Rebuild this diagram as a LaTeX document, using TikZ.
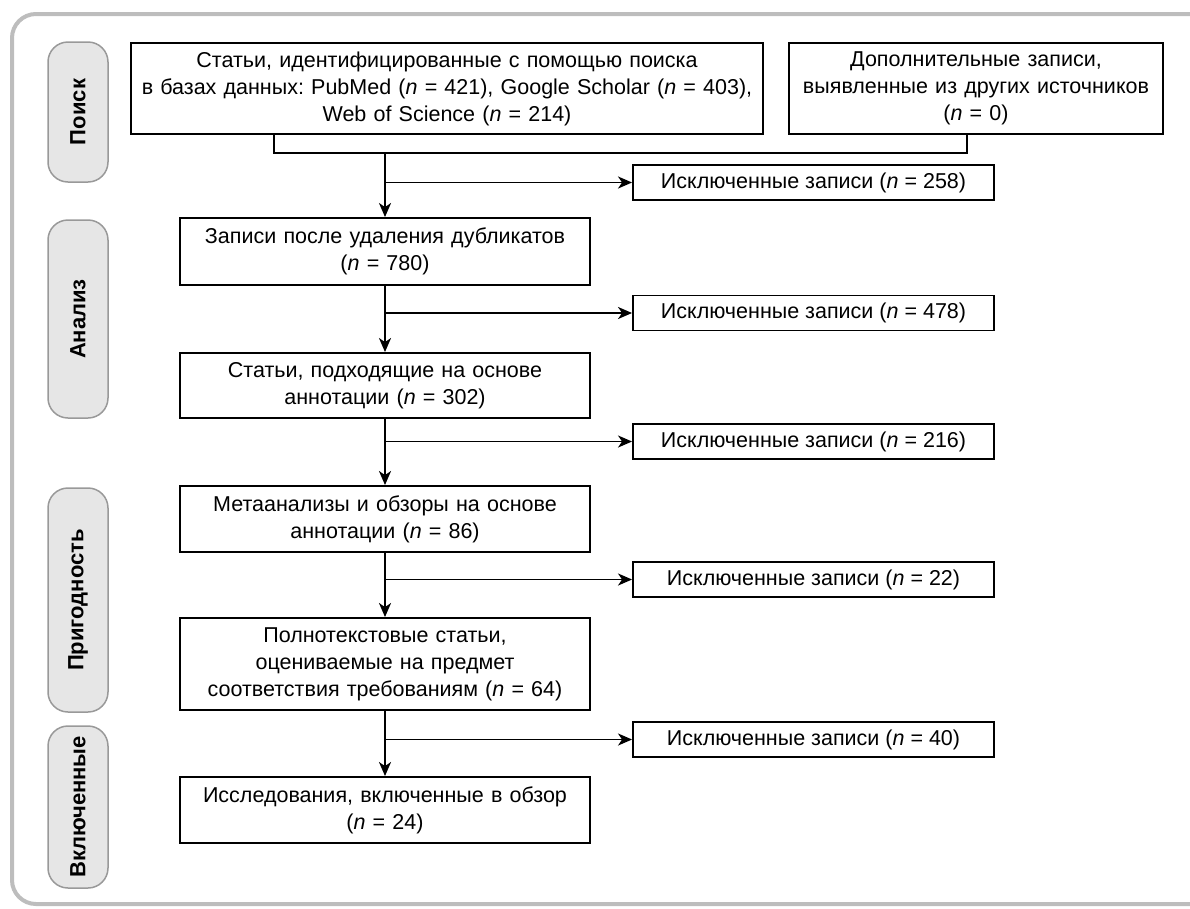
\documentclass[tikz,border=0pt]{standalone}
\usepackage{fontspec}
\setmainfont{Liberation Sans}
\usetikzlibrary{arrows.meta}
\definecolor{framegray}{HTML}{BDBDBD}
\definecolor{phasefill}{HTML}{E6E6E6}
\definecolor{phaseline}{HTML}{999999}
\frenchspacing
\begin{document}
\begin{tikzpicture}[x=1pt,y=-1pt,
    >={Stealth[length=14pt,width=12pt,inset=4pt]},
    every node/.style={font=\fontsize{21.5}{27}\selectfont},
    box/.style={draw,line width=1.9pt,align=center,inner sep=0pt,
      minimum width=410,text width=404},
    exbox/.style={draw,line width=1.9pt,align=center,inner sep=0pt,
      minimum width=361,minimum height=35},
    phase/.style={draw=phaseline,fill=phasefill,line width=1.5pt,
      rounded corners=20,rotate=90,minimum height=60,inner sep=0pt,
      font=\fontsize{22}{26}\selectfont\bfseries}]
  \useasboundingbox (0,0) rectangle (1190,908);
  \begin{scope}
    \clip (0,0) rectangle (1190,908);
    \draw[framegray,line width=4pt,rounded corners=24]
      (1240,904) -- (12,904) -- (12,14) -- (1240,14);
  \end{scope}
  \node[phase,minimum width=140] (p1) at (78,112) {Поиск};
  \node[phase,minimum width=198] (p2) at (78,319) {Анализ};
  \node[phase,minimum width=224] (p3) at (78,600) {Пригодность};
  \node[phase,minimum width=162] (p4) at (78,807) {Включенные};
  \node[box,minimum width=632,text width=626,minimum height=91] (srch) at (447,88.5)
    {Статьи, идентифицированные с помощью поиска\\
     в базах данных: PubMed (\textit{n} = 421), Google Scholar (\textit{n} = 403),\\
     Web of Science (\textit{n} = 214)};
  \node[box,minimum width=374,text width=368,minimum height=91] (extra) at (976,88.5)
    {Дополнительные записи,\\ выявленные из других источников\\ (\textit{n} = 0)};
  \node[box,minimum height=67] (dedup) at (385,251.5)
    {Записи после удаления дубликатов\\ (\textit{n} = 780)};
  \node[box,minimum height=65] (abst) at (385,385.5)
    {Статьи, подходящие на основе\\ аннотации (\textit{n} = 302)};
  \node[box,minimum height=66] (meta) at (385,519)
    {Метаанализы и обзоры на основе\\ аннотации (\textit{n} = 86)};
  \node[box,minimum height=92] (full) at (385,664)
    {Полнотекстовые статьи,\\ оцениваемые на предмет\\ соответствия требованиям (\textit{n} = 64)};
  \node[box,minimum height=66] (incl) at (385,810)
    {Исследования, включенные в обзор\\ (\textit{n} = 24)};
  \node[exbox] (ex1) at (813.5,182.5) {Исключенные записи (\textit{n} = 258)};
  \node[exbox] (ex2) at (813.5,313) {Исключенные записи (\textit{n} = 478)};
  \node[exbox] (ex3) at (813.5,441.5) {Исключенные записи (\textit{n} = 216)};
  \node[exbox] (ex4) at (813.5,579.5) {Исключенные записи (\textit{n} = 22)};
  \node[exbox] (ex5) at (813.5,739.5) {Исключенные записи (\textit{n} = 40)};
  \coordinate (mL) at (274,153);
  \coordinate (mC) at (385,153);
  \coordinate (mR) at (967,153);
  \begin{scope}[line width=1.9pt]
    \draw (srch.south -| mL) -- (mL) -- (mR) -- (extra.south -| mR);
  \end{scope}
  \begin{scope}[->,line width=1.9pt]
    \draw (mC) to (dedup);
    \draw (dedup) to (abst);
    \draw (abst) to (meta);
    \draw (meta) to (full);
    \draw (full) to (incl);
    \draw (ex1.west -| mC) to (ex1);
    \draw (ex2.west -| mC) to (ex2);
    \draw (ex3.west -| mC) to (ex3);
    \draw (ex4.west -| mC) to (ex4);
    \draw (ex5.west -| mC) to (ex5);
  \end{scope}
\end{tikzpicture}
\end{document}
